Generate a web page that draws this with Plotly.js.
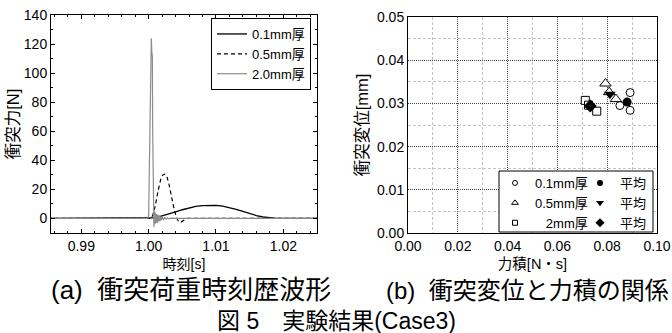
<!DOCTYPE html>
<html>
<head>
<meta charset="utf-8">
<script src="https://cdn.plot.ly/plotly-3.0.1.min.js"></script>
<style>html,body{margin:0;padding:0;background:#fff}#chart{width:672px;height:333px}</style>
</head>
<body>
<div id="chart"></div>
<script>
// ---- (a) impact force time history ----
const t01 = [0.985, 1.0005, 1.001, 1.002, 1.003, 1.004, 1.005, 1.006, 1.007, 1.008, 1.009, 1.010, 1.011, 1.012, 1.013, 1.014, 1.015, 1.016, 1.017, 1.018, 1.019, 1.020, 1.025];
const f01 = [0, 0, 0.5, 1.8, 3.0, 4.5, 6.0, 7.3, 8.3, 8.9, 9.1, 9.0, 8.5, 7.6, 6.3, 4.8, 3.3, 2.0, 1.0, 0.4, 0.1, 0, 0];

const t05 = [0.985, 1.0002, 1.0006, 1.0010, 1.0014, 1.0018, 1.0021, 1.0024, 1.0027, 1.0030, 1.0034, 1.0038, 1.0042, 1.0045, 1.0048, 1.0052, 1.0056, 1.025];
const f05 = [0, 0, 2, 9, 19, 27, 30, 30.5, 29, 24, 15, 6, 0, -2.5, -2.5, -1, 0, 0];

const t20 = [0.985, 0.9999, 1.0000, 1.00015, 1.0003, 1.0004, 1.00048, 1.00055, 1.0006, 1.0007, 1.00078, 1.00086, 1.00094, 1.0010, 1.0011, 1.0012, 1.0013, 1.0014, 1.0015, 1.0016, 1.0017, 1.0018, 1.0019, 1.0020, 1.0022, 1.0024, 1.0026, 1.0028, 1.0030, 1.0033, 1.0036, 1.0040, 1.0050, 1.025];
const f20 = [0, 0, 2, 60, 118, 124, 114, 112, 60, 5, -6, 5, -4, 4, -3, 3, -3, 2.5, -2, 2, -1.8, 1.5, -1.2, 1, -0.8, 0.6, -0.5, 0.4, -0.3, 0.2, -0.1, 0, 0, 0];

const seriesA = ['0.1mm厚', '0.5mm厚', '2.0mm厚'];

// ---- (b) impact displacement vs impulse ----
const x01 = [0.0892, 0.0892, 0.0851];
const y01 = [0.0325, 0.0284, 0.0295];
const x05 = [0.0793, 0.0835, 0.0808];
const y05 = [0.0346, 0.0310, 0.0326];
const x2 = [0.0712, 0.0758, 0.0725];
const y2 = [0.0307, 0.0282, 0.0296];
const xAvg01 = [0.0880], yAvg01 = [0.0303];
const xAvg05 = [0.0811], yAvg05 = [0.0321];
const xAvg2 = [0.0732], yAvg2 = [0.0294];
const seriesB = ['0.1mm厚', '0.5mm厚', '\u00a0\u00a0\u00a02mm厚'];
const avgLabel = '平均';

const captionA = '(a)  衝突荷重時刻歴波形';
const captionB = '(b)  衝突変位と力積の関係';
const figCaption = '図 5\u3000実験結果(Case3)';

const FONT = 'Liberation Sans, Arial, "Noto Sans CJK JP", sans-serif';
const W = 672, H = 333;
const px = v => v / W;
const py = v => (H - v) / H;

const openMk = (sym, size) => ({symbol: sym, size: size, color: '#fff', line: {color: '#000', width: 1}});
const fillMk = (sym, size) => ({symbol: sym, size: size, color: '#000', line: {color: '#000', width: 0}});
const sc = {type: 'scatter', mode: 'markers', xaxis: 'x2', yaxis: 'y2'};

const traces = [
  {x: t01, y: f01, name: seriesA[0], type: 'scatter', mode: 'lines', line: {color: '#000', width: 1.3}, xaxis: 'x', yaxis: 'y', legend: 'legend'},
  {x: t05, y: f05, name: seriesA[1], type: 'scatter', mode: 'lines', line: {color: '#000', width: 1.2, dash: '4px,3px'}, xaxis: 'x', yaxis: 'y', legend: 'legend'},
  {x: t20, y: f20, name: seriesA[2], type: 'scatter', mode: 'lines', line: {color: '#8c8c8c', width: 1.2}, xaxis: 'x', yaxis: 'y', legend: 'legend'},

  // data marks (legend entries drawn by the small-marker entries below)
  Object.assign({x: x01, y: y01, name: seriesB[0], marker: openMk('circle', 8), showlegend: false}, sc),
  Object.assign({x: x05, y: y05, name: seriesB[1], marker: openMk('triangle-up', 10), showlegend: false}, sc),
  Object.assign({x: x2, y: y2, name: seriesB[2], marker: openMk('square', 8), showlegend: false}, sc),
  Object.assign({x: xAvg01, y: yAvg01, name: avgLabel, marker: fillMk('circle', 9), showlegend: false}, sc),
  Object.assign({x: xAvg05, y: yAvg05, name: avgLabel, marker: fillMk('triangle-down', 10), showlegend: false}, sc),
  Object.assign({x: xAvg2, y: yAvg2, name: avgLabel, marker: fillMk('diamond', 10), showlegend: false}, sc),

  // legend entries with small symbols, as in the reference legend
  Object.assign({x: [null], y: [null], name: seriesB[0], marker: openMk('circle', 5), legend: 'legend2'}, sc),
  Object.assign({x: [null], y: [null], name: seriesB[1], marker: openMk('triangle-up', 6), legend: 'legend2'}, sc),
  Object.assign({x: [null], y: [null], name: seriesB[2], marker: openMk('square', 5), legend: 'legend2'}, sc),
  Object.assign({x: [null], y: [null], name: avgLabel, marker: fillMk('circle', 6), legend: 'legend3'}, sc),
  Object.assign({x: [null], y: [null], name: avgLabel, marker: fillMk('triangle-down', 7), legend: 'legend3'}, sc),
  Object.assign({x: [null], y: [null], name: avgLabel, marker: fillMk('diamond', 7), legend: 'legend3'}, sc)
];

const layout = {
  width: W, height: H,
  margin: {l: 0, r: 0, t: 0, b: 0},
  paper_bgcolor: '#fff', plot_bgcolor: '#fff',
  font: {family: FONT, size: 14, color: '#000'},
  showlegend: true,
  xaxis: {
    domain: [px(51), px(317)], anchor: 'y', range: [0.9855, 1.025],
    tick0: 0.99, dtick: 0.01, tickformat: '.2f',
    ticks: 'inside', ticklen: 4, tickcolor: '#000', tickwidth: 1,
    minor: {dtick: 0.002, ticks: 'inside', ticklen: 2, tickcolor: '#000', showgrid: false},
    showline: true, linecolor: '#000', linewidth: 1, mirror: 'allticks',
    showgrid: false, zeroline: false, tickfont: {size: 14},
    title: {text: '時刻[s]', font: {size: 14}, standoff: 6}
  },
  yaxis: {
    domain: [py(233), py(15)], anchor: 'x', range: [-10, 140],
    dtick: 20, ticks: 'inside', ticklen: 4, tickcolor: '#000',
    minor: {dtick: 10, ticks: 'inside', ticklen: 2, tickcolor: '#000', showgrid: false},
    showline: true, linecolor: '#000', linewidth: 1, mirror: 'allticks',
    showgrid: false, zeroline: false, tickfont: {size: 14},
    title: {text: '衝突力[N]', font: {size: 16.5}, standoff: 0}
  },
  xaxis2: {
    domain: [px(408), px(657)], anchor: 'y2', range: [0, 0.1],
    dtick: 0.02, tickformat: '.2f', ticks: '',
    showline: true, linecolor: '#000', linewidth: 1, mirror: true,
    showgrid: true, gridcolor: '#444', griddash: '1px,1px', gridwidth: 1,
    minor: {dtick: 0.01, showgrid: true, gridcolor: '#c4c4c4', griddash: '3px,2px', gridwidth: 1},
    zeroline: false, tickfont: {size: 14},
    title: {text: '力積[N・s]', font: {size: 14.5}, standoff: 6}
  },
  yaxis2: {
    domain: [py(233), py(17)], anchor: 'x2', range: [0, 0.05],
    dtick: 0.01, tickformat: '.2f', ticks: '',
    showline: true, linecolor: '#000', linewidth: 1, mirror: true,
    showgrid: true, gridcolor: '#444', griddash: '1px,1px', gridwidth: 1,
    minor: {dtick: 0.005, showgrid: true, gridcolor: '#c4c4c4', griddash: '3px,2px', gridwidth: 1},
    zeroline: false, tickfont: {size: 14},
    title: {text: '衝突変位[mm]', font: {size: 16.5}, standoff: 4}
  },
  legend: {
    x: px(211), y: py(18), xanchor: 'left', yanchor: 'top',
    bgcolor: '#fff', bordercolor: '#000', borderwidth: 1,
    font: {size: 13}, itemwidth: 30, tracegroupgap: 0
  },
  legend2: {
    x: px(495), y: py(168), xanchor: 'left', yanchor: 'top',
    bgcolor: 'rgba(0,0,0,0)', borderwidth: 0,
    font: {size: 13}, itemwidth: 30, tracegroupgap: 0
  },
  legend3: {
    x: px(580), y: py(168), xanchor: 'left', yanchor: 'top',
    bgcolor: 'rgba(0,0,0,0)', borderwidth: 0,
    font: {size: 13}, itemwidth: 30, tracegroupgap: 0
  },
  shapes: [
    {type: 'rect', xref: 'paper', yref: 'paper', x0: px(499), x1: px(653), y0: py(232), y1: py(171),
     fillcolor: '#fff', line: {color: '#000', width: 1}, layer: 'above'}
  ],
  annotations: [
    {text: captionA, xref: 'paper', yref: 'paper', x: px(191), y: py(290), xanchor: 'center', yanchor: 'middle', showarrow: false, font: {size: 26}},
    {text: captionB, xref: 'paper', yref: 'paper', x: px(527), y: py(290), xanchor: 'center', yanchor: 'middle', showarrow: false, font: {size: 24}},
    {text: figCaption, xref: 'paper', yref: 'paper', x: px(336), y: py(321), xanchor: 'center', yanchor: 'middle', showarrow: false, font: {size: 23}}
  ]
};

Plotly.newPlot('chart', traces, layout, {staticPlot: true, displayModeBar: false});
</script>
</body>
</html>
